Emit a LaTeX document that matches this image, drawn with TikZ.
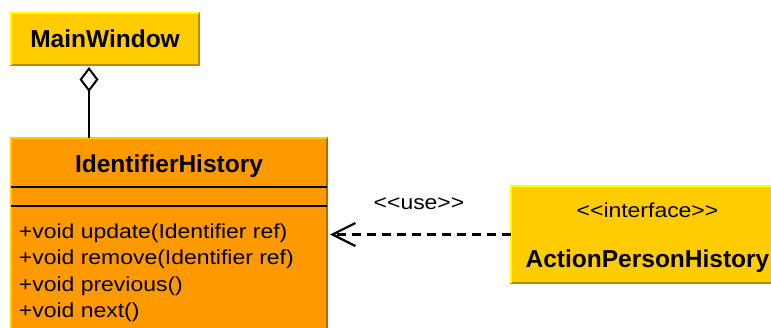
\documentclass[tikz,border=0pt]{standalone}
\usepackage{fontspec}
\setmainfont{Liberation Sans}
\newfontfamily\memberfont{Liberation Sans}[FakeStretch=1.13]
\usetikzlibrary{arrows.meta,positioning,calc}
\definecolor{clsyellow}{RGB}{255,204,0}
\definecolor{clsorange}{RGB}{255,153,0}
\definecolor{edgeyellow}{RGB}{255,255,0}
\definecolor{shadeyellow}{RGB}{179,143,0}
\definecolor{shadeorange}{RGB}{179,107,0}
% stereotype brackets, kept apart so they do not turn into guillemets
\newcommand{\umlstereo}[1]{<\kern0pt<#1>\kern0pt>}

\begin{document}
\begin{tikzpicture}[x=1pt, y=-1pt,
    every node/.style={inner sep=0pt, outer sep=0pt},
    clsbox/.style 2 args={rectangle, anchor=north west, fill=#1, draw=#2, line width=2.5pt},
    hilite/.style={line width=2.5pt, draw=#1},
    clsname/.style={font=\fontsize{24.5}{29}\selectfont\bfseries},
    member/.style={font=\memberfont\fontsize{20.3}{26}\selectfont},
    usearrow/.style={line width=2.2pt, dash pattern=on 9pt off 6pt,
      -{Straight Barb[length=23pt,width=23pt]}, shorten >=3pt},
    aggr/.style={line width=2pt, -{Diamond[open,length=25pt,width=19pt]}}]
  \clip (0,0) rectangle (771,327);
  \useasboundingbox (0,0) rectangle (771,327);

  % --- classes ---
  \node[clsbox={clsyellow}{shadeyellow}, minimum width=188pt, minimum height=52pt,
    clsname] (mainwin) at (11,13) {MainWindow};
  \node[clsbox={clsorange}{shadeorange}, minimum width=316pt, minimum height=250pt]
    (idhist) at (11,138) {};
  \node[clsbox={clsyellow}{shadeyellow}, minimum width=273pt, minimum height=97pt]
    (aph) at (511,186) {};

  % light top/left edges
  \draw[hilite=edgeyellow] (mainwin.south west) |- (mainwin.north east);
  \draw[hilite=clsyellow] (idhist.south west) |- (idhist.north east);
  \draw[hilite=edgeyellow] (aph.south west) |- (aph.north east);

  % --- IdentifierHistory compartments ---
  \node[clsname, anchor=base] (idtitle) at ($(idhist.north)+(0,34)$) {IdentifierHistory};
  \draw[line width=2pt] ($(idhist.north west)+(0,49)$) -- ($(idhist.north east)+(0,49)$);
  \draw[line width=2pt] ($(idhist.north west)+(0,68)$) -- ($(idhist.north east)+(0,68)$);
  \node[member, anchor=base west] (m1) at ($(idhist.north west)+(8,100)$) {+void update(Identifier ref)};
  \node[member, anchor=base west] (m2) at ($(m1.base west)+(0,26.5)$) {+void remove(Identifier ref)};
  \node[member, anchor=base west] (m3) at ($(m2.base west)+(0,26.5)$) {+void previous()};
  \node[member, anchor=base west] (m4) at ($(m3.base west)+(0,26.5)$) {+void next()};

  % --- interface ---
  \node[member, anchor=base] (aphstereo) at ($(aph.north)+(0,31)$) {\umlstereo{interface}};
  \node[clsname, anchor=base] (aphname) at ($(aph.north)+(0,81)$) {ActionPersonHistory};

  % --- relations ---
  \coordinate (agg) at (89,67);
  \draw[aggr] (idhist.north -| agg) -- (agg);
  \draw[usearrow] (aph.west) -- (aph.west -| idhist.east)
    node[member, pos=0.5, anchor=base, yshift=25pt] (uselbl) {\umlstereo{use}};
\end{tikzpicture}
\end{document}
